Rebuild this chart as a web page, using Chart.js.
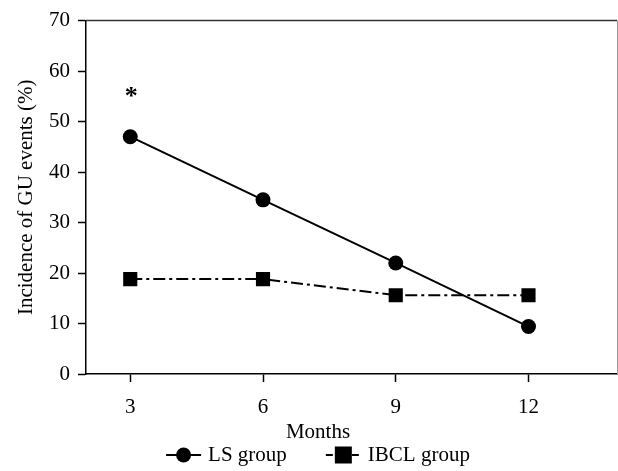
<!DOCTYPE html>
<html>
<head>
<meta charset="utf-8">
<title>Incidence of GU events</title>
<script src="https://cdn.jsdelivr.net/npm/chart.js@4/dist/chart.umd.min.js"></script>
<style>
  html, body { margin: 0; padding: 0; background: #fff; }
  #wrap { width: 618px; height: 471px; position: relative; }
</style>
</head>
<body>
<div id="wrap"><canvas id="chart"></canvas></div>
<script>
(function(){
  'use strict';

  // data
  var months = [3, 6, 9, 12];
  var lsGroup = [47, 34.5, 22, 9.4];
  var ibclGroup = [18.8, 18.8, 15.6, 15.6];
  var seriesNames = ['LS group', 'IBCL group'];
  var xTitle = 'Months';
  var yTitle = 'Incidence of GU events (%)';
  var notes = [{x: 3, y: 55.3, text: '*'}];

  var FONT = '"Liberation Serif", "Times New Roman", serif';
  var FONT_SIZE = 21;

  function toPoints(values){
    return months.map(function(m, i){
      return {x: m, y: values[i]};
    });
  }

  var datasets = [{
    label: seriesNames[0],
    data: toPoints(lsGroup),
    borderColor: '#000',
    backgroundColor: '#000',
    borderWidth: 2,
    pointStyle: 'circle',
    pointRadius: 7.5,
    pointBorderWidth: 0
  }, {
    label: seriesNames[1],
    data: toPoints(ibclGroup),
    borderColor: '#000',
    backgroundColor: '#000',
    borderWidth: 2,
    borderDash: [12, 4, 3, 4],
    pointStyle: 'rect',
    pointRadius: 10,
    pointBorderWidth: 0
  }];

  function drawMarker(ctx, style, x, y, size){
    ctx.fillStyle = '#000';
    if (style === 'circle'){
      ctx.beginPath();
      ctx.arc(x, y, size / 2, 0, Math.PI * 2);
      ctx.fill();
    } else {
      ctx.fillRect(x - size / 2, y - size / 2, size, size);
    }
  }

  var extras = {
    id: 'extras',
    // stretch the plot box to the right edge of the canvas
    afterLayout: function(chart){
      var xs = chart.scales.x;
      var area = chart.chartArea;
      var right = chart.width - 1;
      xs.right = right;
      xs.width = right - xs.left;
      area.right = right;
      area.width = right - area.left;
      xs.configure();
    },
    afterDraw: function(chart){
      var ctx = chart.ctx;
      var area = chart.chartArea;
      var xs = chart.scales.x;
      var ys = chart.scales.y;

      ctx.save();
      // top and right frame lines
      ctx.lineWidth = 1.5;
      ctx.strokeStyle = '#333';
      ctx.beginPath();
      ctx.moveTo(area.left, area.top);
      ctx.lineTo(area.right, area.top);
      ctx.stroke();
      ctx.lineWidth = 1;
      ctx.strokeStyle = '#999';
      ctx.beginPath();
      ctx.moveTo(area.right + 0.5, area.top);
      ctx.lineTo(area.right + 0.5, area.bottom);
      ctx.stroke();

      // significance marks
      ctx.fillStyle = '#000';
      ctx.font = 'bold 26px ' + FONT;
      ctx.textAlign = 'center';
      ctx.textBaseline = 'alphabetic';
      notes.forEach(function(n){
        ctx.fillText(n.text, xs.getPixelForValue(n.x) + 1, ys.getPixelForValue(n.y) + 9);
      });

      // x axis title and legend, centred together
      var centerX = 318;
      ctx.font = FONT_SIZE + 'px ' + FONT;
      ctx.fillText(xTitle, centerX, 438);

      var lineLen = 35, gap = 7, itemGap = 39;
      var widths = seriesNames.map(function(s){ return ctx.measureText(s).width; });
      var total = lineLen * 2 + gap * 2 + widths[0] + widths[1] + itemGap;
      var x = centerX - total / 2;
      var ly = 455;
      ctx.textAlign = 'left';
      datasets.forEach(function(ds, i){
        ctx.strokeStyle = '#000';
        ctx.lineWidth = 2;
        ctx.setLineDash(i === 1 ? [7, 19, 7] : []);
        ctx.beginPath();
        ctx.moveTo(x, ly);
        ctx.lineTo(x + lineLen, ly);
        ctx.stroke();
        ctx.setLineDash([]);
        drawMarker(ctx, ds.pointStyle, x + lineLen / 2, ly, i === 1 ? 17 : 15);
        ctx.fillText(ds.label, x + lineLen + gap, 461);
        x += lineLen + gap + widths[i] + itemGap;
      });
      ctx.restore();
    }
  };

  new Chart(document.getElementById('chart'), {
    type: 'line',
    data: {datasets: datasets},
    plugins: [extras],
    options: {
      responsive: true,
      maintainAspectRatio: false,
      animation: false,
      layout: {padding: {top: 19, right: 1, bottom: 52, left: 0}},
      plugins: {
        legend: {display: false},
        tooltip: {enabled: false}
      },
      scales: {
        x: {
          type: 'linear',
          min: 2,
          max: 14,
          afterBuildTicks: function(scale){
            scale.ticks = months.map(function(m){ return {value: m}; });
          },
          afterFit: function(scale){
            scale.height = 45;
          },
          grid: {
            drawOnChartArea: false,
            drawTicks: true,
            tickLength: 8,
            tickColor: '#000',
            tickWidth: 1.5
          },
          border: {color: '#000', width: 1.5},
          ticks: {
            color: '#000',
            padding: 13,
            maxRotation: 0,
            font: {family: FONT, size: FONT_SIZE}
          }
        },
        y: {
          min: 0,
          max: 70,
          afterFit: function(scale){
            scale.width = 86;
          },
          grid: {
            drawOnChartArea: false,
            drawTicks: true,
            tickLength: 8,
            tickColor: '#000',
            tickWidth: 1.5
          },
          border: {color: '#000', width: 1.5},
          ticks: {
            stepSize: 10,
            color: '#000',
            padding: 8,
            font: {family: FONT, size: FONT_SIZE}
          },
          title: {
            display: true,
            text: yTitle,
            color: '#000',
            padding: {top: 14, bottom: 4},
            font: {family: FONT, size: FONT_SIZE}
          }
        }
      }
    }
  });
})();
</script>
</body>
</html>
